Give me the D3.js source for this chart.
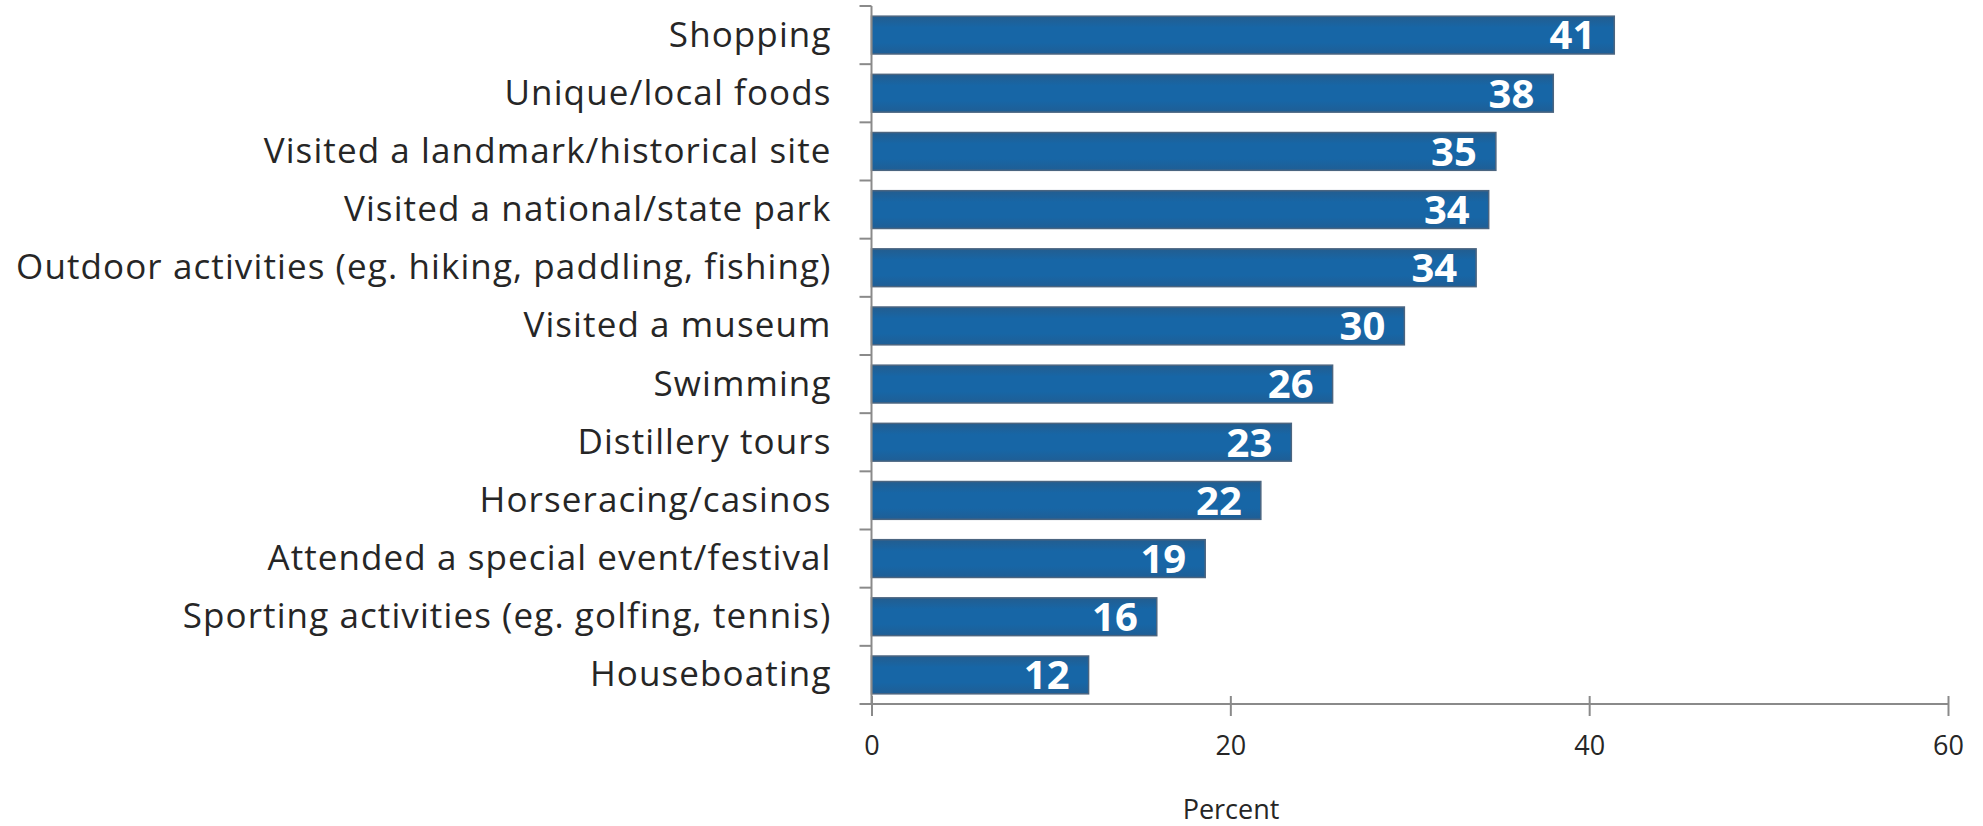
<!DOCTYPE html>
<html>
<head>
<meta charset="utf-8">
<script src="https://cdn.jsdelivr.net/npm/d3@7"></script>
<style>
  html, body { margin: 0; padding: 0; background: #fff; }
  svg { display: block; }
</style>
</head>
<body>
<svg id="chart" width="1983" height="826"></svg>
<script>
const categories = [
  "Shopping",
  "Unique/local foods",
  "Visited a landmark/historical site",
  "Visited a national/state park",
  "Outdoor activities (eg. hiking, paddling, fishing)",
  "Visited a museum",
  "Swimming",
  "Distillery tours",
  "Horseracing/casinos",
  "Attended a special event/festival",
  "Sporting activities (eg. golfing, tennis)",
  "Houseboating"
];
const values = [41.4, 38.0, 34.8, 34.4, 33.7, 29.7, 25.7, 23.4, 21.7, 18.6, 15.9, 12.1];
const valueLabels = ["41", "38", "35", "34", "34", "30", "26", "23", "22", "19", "16", "12"];
const xTicks = [0, 20, 40, 60];
const xTitle = "Percent";

(function () {
const svg = d3.select("#chart");
const mLeft = 871.5, mRight = 1948, mTop = 6, mBottom = 704;

const x = d3.scaleLinear().domain([0, 60]).range([mLeft, mRight]);
const y = d3.scaleBand().domain(categories).range([mTop, mBottom]).paddingInner(0.35).paddingOuter(0.175);

const defs = svg.append("defs");
const grad = defs.append("linearGradient").attr("id", "barGrad").attr("x1", 0).attr("y1", 0).attr("x2", 0).attr("y2", 1);
grad.append("stop").attr("offset", "0%").attr("stop-color", "#235d8f");
grad.append("stop").attr("offset", "30%").attr("stop-color", "#1766a6");
grad.append("stop").attr("offset", "70%").attr("stop-color", "#1766a6");
grad.append("stop").attr("offset", "100%").attr("stop-color", "#1f5e95");

// bars
svg.append("g").selectAll("rect").data(values).join("rect")
  .attr("x", x(0))
  .attr("y", (d, i) => y(categories[i]))
  .attr("width", d => x(d) - x(0))
  .attr("height", y.bandwidth())
  .attr("fill", "url(#barGrad)")
  .attr("stroke", "#4b6580")
  .attr("stroke-width", 1.5);

// value labels
svg.append("g").selectAll("text").data(values).join("text")
  .attr("x", d => x(d) - 19)
  .attr("y", (d, i) => y(categories[i]) + y.bandwidth() / 2)
  .attr("dy", "0.36em")
  .attr("text-anchor", "end")
  .attr("font-family", "'Open Sans', sans-serif")
  .attr("font-weight", "bold")
  .attr("font-size", 40)
  .attr("fill", "#ffffff")
  .text((d, i) => valueLabels[i]);

// y axis
const yAxis = svg.append("g").attr("transform", `translate(${mLeft},0)`);
yAxis.append("line").attr("x1", 0).attr("x2", 0).attr("y1", mTop).attr("y2", mBottom)
  .attr("stroke", "#8a8a8a").attr("stroke-width", 2);
const boundaries = d3.range(categories.length + 1).map(i => mTop + i * y.step());
yAxis.selectAll("line.tk").data(boundaries).join("line").attr("class", "tk")
  .attr("x1", -12).attr("x2", 0).attr("y1", d => d).attr("y2", d => d)
  .attr("stroke", "#8a8a8a").attr("stroke-width", 2);
yAxis.selectAll("text").data(categories).join("text")
  .attr("x", -40)
  .attr("y", d => y(d) + y.bandwidth() / 2)
  .attr("dy", "0.33em")
  .attr("text-anchor", "end")
  .attr("font-family", "'Open Sans', sans-serif")
  .attr("font-size", 35)
  .attr("letter-spacing", "1.1px")
  .attr("fill", "#262626")
  .text(d => d);

// x axis
const xAxis = svg.append("g").attr("transform", `translate(0,${mBottom})`)
  .call(d3.axisBottom(x).tickValues(xTicks).tickSize(12).tickPadding(20).tickFormat(d3.format("d")));
xAxis.select(".domain").attr("stroke", "#8a8a8a").attr("stroke-width", 2).attr("d", `M${mLeft},0H${mRight}`);
xAxis.selectAll(".tick line").attr("stroke", "#8a8a8a").attr("stroke-width", 2).attr("y1", -8).attr("y2", 12);
xAxis.selectAll(".tick text")
  .attr("font-family", "'Open Sans', sans-serif")
  .attr("font-size", 27)
  .attr("fill", "#262626");

svg.append("text")
  .attr("x", 1231)
  .attr("y", 819)
  .attr("text-anchor", "middle")
  .attr("font-family", "'Open Sans', sans-serif")
  .attr("font-size", 27)
  .attr("fill", "#262626")
  .text(xTitle);
})();
</script>
</body>
</html>
